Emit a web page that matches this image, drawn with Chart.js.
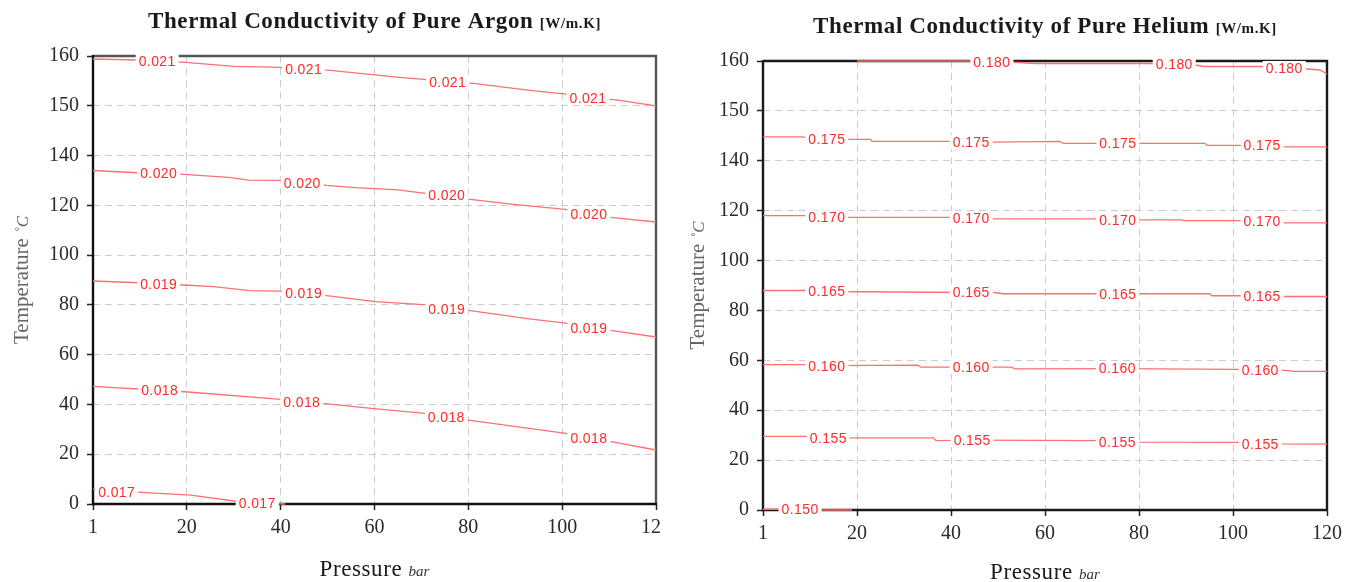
<!DOCTYPE html>
<html><head><meta charset="utf-8">
<script src="https://cdn.jsdelivr.net/npm/chart.js@4/dist/chart.umd.min.js"></script>
<style>
html,body{margin:0;padding:0;background:#fff;}
#wrap{position:relative;width:1361px;height:582px;overflow:hidden;background:#fff;}
.box{position:absolute;top:0;height:582px;overflow:hidden;}
#b1{left:0;width:661px;}
#b2{left:680px;width:681px;}
</style></head><body>
<div id="wrap">
<div class="box" id="b1"><canvas id="c1" width="680" height="582"></canvas></div>
<div class="box" id="b2"><canvas id="c2" width="681" height="582"></canvas></div>
</div>
<script>
// ---------- tick labels ----------
const pressureTicks = [1, 20, 40, 60, 80, 100, 120];
const temperatureTicks = [0, 20, 40, 60, 80, 100, 120, 140, 150, 160];

// ---------- Argon contours: [pressure bar, temperature C] ----------
const argonLevels = ['0.017', '0.018', '0.019', '0.020', '0.021'];
const argon017 = [[1,6],[5.8,4.9],[10.9,4.7],[20.8,3.6],[31.3,0.9],[35,0.4],[41,0]];
const argon018 = [[1,47.3],[14.5,45.7],[19.6,45.1],[40,42],[44.5,41.1],[49.4,40.3],[59.8,38.3],[70.8,36.4],[75.3,34.7],[80.4,33.6],[89.4,31.3],[100.8,28.4],[105.7,26.4],[111,24.9],[120,21.7]];
const argon019 = [[1,89.6],[10.3,88.9],[14.3,88.4],[19.4,88],[25.7,87.3],[33.4,85.7],[40.2,85.5],[44.9,84.7],[49.8,83.7],[60.2,81.3],[71.2,80],[75.4,78.4],[80.4,77.7],[93,74.4],[100.7,72.7],[105.7,70.7],[110.7,69.7],[120,67.1]];
const argon020 = [[1,134],[7.9,133.3],[14.3,132.8],[19.4,132.4],[28.9,131.2],[33.2,130.1],[39.6,130],[44.6,129.1],[49.8,128],[55.9,127.1],[65,126.2],[70.8,124.8],[75.4,124],[80.4,122.4],[89.6,120.4],[100.7,118.4],[105.7,116.4],[110.7,115.1],[120,113.3]];
const argon021 = [[1,159.4],[10.1,159.2],[14,159],[19.8,158.7],[30,157.9],[39.7,157.7],[44.9,157.4],[50.5,157.1],[65.4,155.7],[70.5,155.3],[75.6,154.8],[81.1,154.5],[93.1,153.1],[100.3,152.4],[105.5,151.6],[111.5,151.2],[120,150]];
const argonLabel017 = [[5.8,4.9],[35,0.4]];
const argonLabel018 = [[14.5,45.7],[44.5,41.1],[75.3,34.7],[105.7,26.4]];
const argonLabel019 = [[14.3,88.4],[44.9,84.7],[75.4,78.4],[105.7,70.7]];
const argonLabel020 = [[14.3,132.8],[44.6,129.1],[75.4,124],[105.7,116.4]];
const argonLabel021 = [[14,159],[44.9,157.4],[75.6,154.8],[105.5,151.6]];

// ---------- Helium contours ----------
const heliumLevels = ['0.150', '0.155', '0.160', '0.165', '0.170', '0.175', '0.180'];
const helium150 = [[1,0.3],[5,0.3],[8.5,0.2],[13,0],[19,0]];
const helium155 = [[1,29.5],[9.5,29.5],[14.2,28.9],[36.3,28.9],[36.8,27.8],[44.5,28],[70.3,27.8],[75.4,27.2],[101.5,27.1],[105.8,26.5],[120,26.4]];
const helium160 = [[1,58.3],[9.5,58.3],[13.9,57.9],[32.9,58.1],[33.6,57.3],[44.3,57.3],[52.9,57.3],[53.6,56.6],[75.4,56.7],[101,56.4],[105.8,56],[111.1,56],[113,55.6],[120,55.6]];
const helium165 = [[1,88],[9.5,88],[13.9,87.6],[44.3,87.2],[49.3,87.2],[51.1,86.7],[95,86.7],[95.5,85.9],[106.2,85.9],[111,85.6],[120,85.6]];
const helium170 = [[1,118],[9.5,118],[13.9,117.3],[39.6,117.3],[44.3,117.1],[48.6,116.7],[71.3,116.7],[75.5,116.3],[89.1,116.3],[89.5,116],[101.6,116],[106.2,115.7],[111,115.1],[120,115.1]];
const helium175 = [[1,144.8],[8.5,144.8],[13.9,144.3],[22.9,144.3],[23.2,143.9],[39.6,143.9],[44.3,143.7],[63,143.9],[64,143.5],[75.5,143.5],[94,143.5],[94.5,143.1],[106.2,143.1],[111,142.8],[120,142.8]];
const helium180 = [[20,160],[44,160],[48.7,159.8],[54.3,159.7],[58,159.5],[83,159.5],[87.5,159.3],[92,159.2],[94,158.9],[106,158.9],[110.9,158.6],[115.8,158.4],[118.5,158.2],[120,157.4]];
const heliumLabel150 = [[8.5,0.2]];
const heliumLabel155 = [[14.2,28.9],[44.5,28],[75.4,27.2],[105.8,26.5]];
const heliumLabel160 = [[13.9,57.8],[44.3,57.3],[75.4,56.8],[105.8,56]];
const heliumLabel165 = [[13.9,87.6],[44.3,87.2],[75.5,86.7],[106.2,85.9]];
const heliumLabel170 = [[13.9,117.3],[44.3,117.1],[75.5,116.3],[106.2,115.7]];
const heliumLabel175 = [[13.9,144.3],[44.3,143.7],[75.5,143.5],[106.2,143.1]];
const heliumLabel180 = [[48.7,159.8],[87.5,159.3],[110.9,158.6]];

// ---------- piecewise scale: ticks evenly spaced, linear between ticks ----------
class PiecewiseScale extends Chart.LinearScale {
  buildTicks() { return this.options.tickValues.map(v => ({ value: v })); }
  _dec(value) {
    const t = this.options.tickValues, n = t.length - 1;
    let i = 0;
    while (i < n - 1 && value > t[i + 1]) i++;
    return (i + (value - t[i]) / (t[i + 1] - t[i])) / n;
  }
  getPixelForValue(value) { return this.getPixelForDecimal(this._dec(value)); }
  getValueForPixel(pixel) {
    const t = this.options.tickValues, n = t.length - 1;
    const f = this.getDecimalForPixel(pixel) * n;
    const i = Math.max(0, Math.min(n - 1, Math.floor(f)));
    return t[i] + (f - i) * (t[i + 1] - t[i]);
  }
}
PiecewiseScale.id = 'piecewise';
PiecewiseScale.defaults = {};
Chart.register(PiecewiseScale);

function drawParts(ctx, parts, cx, cy) {
  let total = 0;
  parts.forEach(p => {
    ctx.font = p.font; ctx.letterSpacing = p.ls || '0px';
    p.w = ctx.measureText(p.text).width; total += p.w;
  });
  let x = cx - total / 2;
  ctx.textAlign = 'left'; ctx.textBaseline = 'alphabetic';
  parts.forEach(p => {
    ctx.font = p.font; ctx.letterSpacing = p.ls || '0px';
    ctx.fillStyle = p.color; ctx.fillText(p.text, x, cy); x += p.w;
  });
  ctx.letterSpacing = '0px';
}

function makeChart(canvas, cfg) {
  const datasets = cfg.lines.map((pts, k) => ({
    label: cfg.levels[k],
    data: pts.map(p => ({ x: p[0], y: p[1] })),
    borderColor: '#ff7070',
    borderWidth: 1.3,
    pointRadius: 0,
    tension: 0,
    fill: false,
    clip: 4
  }));
  const serif = '"Liberation Serif", "Times New Roman", serif';
  const framePlugin = {
    id: 'frame',
    beforeDatasetsDraw(chart) {
      const { ctx, chartArea: a } = chart;
      ctx.save();
      ctx.lineWidth = 2.4;
      ctx.strokeStyle = cfg.frameTR;
      ctx.beginPath(); ctx.moveTo(a.left, a.top); ctx.lineTo(a.right, a.top); ctx.lineTo(a.right, a.bottom); ctx.stroke();
      ctx.strokeStyle = cfg.frameLB;
      ctx.beginPath(); ctx.moveTo(a.left, a.top - 1); ctx.lineTo(a.left, a.bottom); ctx.lineTo(a.right + 1, a.bottom); ctx.stroke();
      ctx.restore();
    }
  };
  const labelPlugin = {
    id: 'contourLabels',
    afterDatasetsDraw(chart) {
      const { ctx } = chart;
      const xs = chart.scales.x, ys = chart.scales.y;
      ctx.save();
      ctx.font = '14px "Liberation Sans", Arial, sans-serif';
      ctx.letterSpacing = '0.4px';
      ctx.textAlign = 'center'; ctx.textBaseline = 'middle';
      cfg.labels.forEach((list, k) => {
        const txt = cfg.levels[k];
        const w = ctx.measureText(txt).width;
        list.forEach(pt => {
          const px = xs.getPixelForValue(pt[0]), py = ys.getPixelForValue(pt[1]);
          ctx.fillStyle = '#ffffff';
          ctx.fillRect(px - w / 2 - 3, py - 7, w + 6, 14);
          ctx.fillStyle = '#ff2a2a';
          ctx.fillText(txt, px, py + 1);
        });
      });
      ctx.restore();
    }
  };
  const titlePlugin = {
    id: 'titles',
    afterDraw(chart) {
      const { ctx, chartArea: a } = chart;
      const cx = (a.left + a.right) / 2, cy = (a.top + a.bottom) / 2;
      ctx.save();
      drawParts(ctx, [
        { text: cfg.title + ' ', font: 'bold 23px ' + serif, color: '#1a1a1a', ls: '0.6px' },
        { text: '[W/m.K]', font: 'bold 15px ' + serif, color: '#1a1a1a', ls: '0.6px' }
      ], cx, cfg.titleY);
      drawParts(ctx, [
        { text: 'Pressure ', font: '23px ' + serif, color: '#1a1a1a', ls: '0.6px' },
        { text: 'bar', font: 'italic 15px ' + serif, color: '#333' }
      ], cx, cfg.xTitleY);
      ctx.translate(cfg.yTitleX, cy);
      ctx.rotate(-Math.PI / 2);
      drawParts(ctx, [
        { text: 'Temperature ', font: '21px ' + serif, color: '#666' },
        { text: '\u02daC', font: 'italic 17px ' + serif, color: '#666' }
      ], 0, 0);
      ctx.restore();
    }
  };
  const gridCommon = {
    color: '#cccccc',
    lineWidth: 1,
    tickLength: 6,
    tickColor: '#222',
    tickWidth: 1.5,
    tickBorderDash: [],
    drawTicks: true
  };
  return new Chart(canvas, {
    type: 'line',
    data: { datasets },
    options: {
      responsive: false,
      animation: false,
      devicePixelRatio: 1,
      layout: { padding: { left: 0, top: cfg.top, right: cfg.rightPad, bottom: 0 } },
      plugins: { legend: { display: false }, tooltip: { enabled: false }, title: { display: false } },
      scales: {
        x: {
          type: 'piecewise',
          tickValues: pressureTicks,
          min: 1, max: 120,
          border: { display: false, dash: [7, 5] },
          grid: gridCommon,
          ticks: { autoSkip: false, maxRotation: 0, padding: 6, color: '#2a2a2a', font: { family: serif, size: 20 }, callback: v => String(v) },
          afterFit: s => { s.height = cfg.xAxisH; }
        },
        y: {
          type: 'piecewise',
          tickValues: temperatureTicks,
          min: 0, max: 160,
          border: { display: false, dash: [7, 5] },
          grid: gridCommon,
          ticks: { autoSkip: false, padding: 8, color: '#2a2a2a', font: { family: serif, size: 20 }, callback: v => String(v) },
          afterFit: s => { s.width = cfg.yAxisW; }
        }
      }
    },
    plugins: [framePlugin, labelPlugin, titlePlugin]
  });
}

makeChart(document.getElementById('c1'), {
  title: 'Thermal Conductivity of Pure Argon',
  levels: argonLevels,
  lines: [argon017, argon018, argon019, argon020, argon021],
  labels: [argonLabel017, argonLabel018, argonLabel019, argonLabel020, argonLabel021],
  top: 56, rightPad: 24, yAxisW: 93, xAxisH: 78,
  titleY: 28, xTitleY: 576, yTitleX: 28,
  frameTR: '#555', frameLB: '#111'
});
makeChart(document.getElementById('c2'), {
  title: 'Thermal Conductivity of Pure Helium',
  levels: heliumLevels,
  lines: [helium150, helium155, helium160, helium165, helium170, helium175, helium180],
  labels: [heliumLabel150, heliumLabel155, heliumLabel160, heliumLabel165, heliumLabel170, heliumLabel175, heliumLabel180],
  top: 61, rightPad: 34, yAxisW: 83, xAxisH: 72,
  titleY: 33, xTitleY: 579, yTitleX: 24,
  frameTR: '#1a1a1a', frameLB: '#1a1a1a'
});
</script>
</body></html>
